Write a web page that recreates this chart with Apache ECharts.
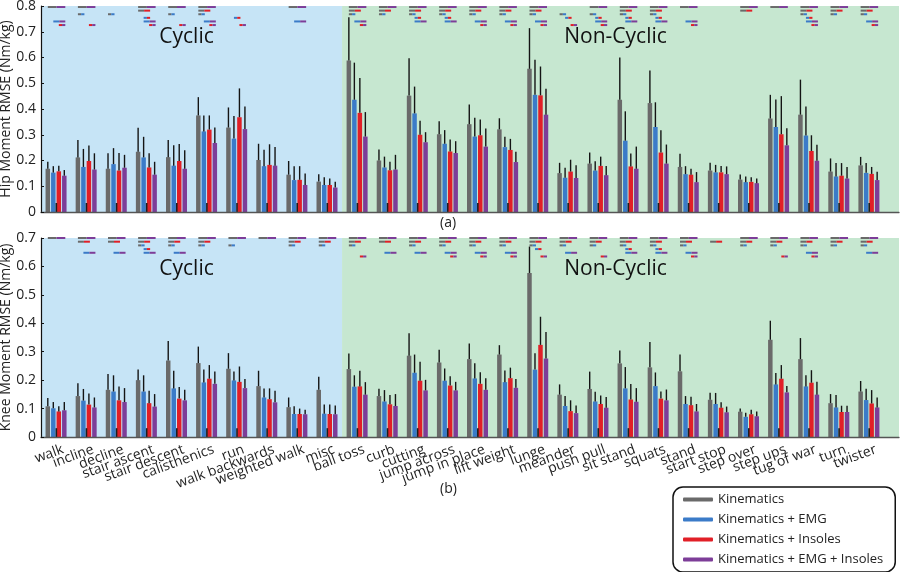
<!DOCTYPE html>
<html><head><meta charset="utf-8">
<script src="https://cdn.jsdelivr.net/npm/echarts@6/dist/echarts.min.js"></script>
<style>html,body{margin:0;padding:0;background:#fff}#c{width:900px;height:572px}</style>
</head><body><div id="c"></div><script>
const categories = ['walk','incline','decline','stair ascent','stair descent','calisthenics','run','walk backwards','weighted walk','misc','ball toss','curb','cutting','jump across','jump in place','lift weight','lunge','meander','push pull','sit stand','squats','stand','start stop','step over','step ups','tug of war','turn','twister'];
const methods = ['Kinematics','Kinematics + EMG','Kinematics + Insoles','Kinematics + EMG + Insoles'];
const regionNames = ['Cyclic','Non-Cyclic'];
const regionBounds = [[-0.5, 9.5], [9.5, 28]];
const hipAxisTicks = [0, 0.8, 0.1];
const kneeAxisTicks = [0, 0.7, 0.1];

const hipKin        = [0.168,0.212,0.168,0.234,0.213,0.375,0.328,0.202,0.145,0.118,0.588,0.200,0.452,0.302,0.341,0.321,0.556,0.151,0.188,0.436,0.423,0.175,0.161,0.126,0.363,0.378,0.157,0.181];
const hipKinHigh    = [0.195,0.280,0.228,0.327,0.280,0.446,0.406,0.265,0.198,0.147,0.756,0.243,0.597,0.352,0.417,0.364,0.714,0.191,0.231,0.600,0.550,0.226,0.191,0.146,0.455,0.514,0.208,0.214];
const hipEmg        = [0.153,0.175,0.186,0.212,0.180,0.313,0.285,0.178,0.124,0.105,0.436,0.173,0.383,0.265,0.293,0.252,0.455,0.133,0.161,0.277,0.330,0.147,0.154,0.116,0.330,0.297,0.138,0.152];
const hipEmgHigh    = [0.178,0.245,0.248,0.292,0.259,0.375,0.373,0.242,0.178,0.135,0.580,0.215,0.487,0.318,0.366,0.292,0.591,0.172,0.197,0.391,0.426,0.178,0.183,0.138,0.437,0.410,0.190,0.190];
const hipIns        = [0.158,0.198,0.161,0.173,0.198,0.320,0.368,0.183,0.125,0.105,0.385,0.162,0.300,0.235,0.298,0.241,0.453,0.157,0.179,0.177,0.231,0.145,0.154,0.117,0.302,0.237,0.141,0.148];
const hipInsHigh    = [0.180,0.258,0.229,0.228,0.264,0.375,0.480,0.263,0.178,0.130,0.520,0.195,0.354,0.282,0.359,0.284,0.565,0.203,0.215,0.227,0.317,0.168,0.179,0.135,0.450,0.298,0.190,0.175];
const hipEmgIns     = [0.141,0.165,0.172,0.145,0.168,0.268,0.322,0.180,0.105,0.095,0.293,0.165,0.271,0.229,0.254,0.194,0.378,0.132,0.143,0.168,0.188,0.116,0.147,0.112,0.259,0.199,0.130,0.124];
const hipEmgInsHigh = [0.163,0.228,0.222,0.195,0.240,0.328,0.410,0.252,0.150,0.117,0.388,0.222,0.310,0.275,0.324,0.234,0.479,0.182,0.179,0.254,0.262,0.155,0.177,0.130,0.325,0.261,0.175,0.156];

const kneeKin        = [0.108,0.144,0.166,0.200,0.269,0.260,0.240,0.179,0.105,0.166,0.239,0.144,0.286,0.262,0.274,0.290,0.577,0.149,0.169,0.259,0.245,0.231,0.131,0.089,0.342,0.274,0.119,0.160];
const kneeKinHigh    = [0.137,0.189,0.222,0.237,0.338,0.318,0.295,0.233,0.139,0.212,0.294,0.170,0.365,0.307,0.329,0.323,0.670,0.185,0.230,0.304,0.334,0.290,0.156,0.100,0.409,0.348,0.151,0.197];
const kneeEmg        = [0.101,0.128,0.160,0.160,0.171,0.192,0.199,0.139,0.081,0.082,0.177,0.125,0.226,0.198,0.206,0.193,0.237,0.109,0.125,0.171,0.179,0.116,0.116,0.071,0.185,0.178,0.104,0.130];
const kneeEmgHigh    = [0.123,0.169,0.217,0.217,0.233,0.237,0.230,0.171,0.108,0.114,0.217,0.165,0.290,0.241,0.259,0.234,0.295,0.144,0.159,0.246,0.227,0.144,0.155,0.085,0.225,0.217,0.148,0.170];
const kneeIns        = [0.090,0.114,0.129,0.119,0.135,0.205,0.194,0.133,0.081,0.081,0.178,0.115,0.198,0.181,0.187,0.207,0.324,0.091,0.116,0.132,0.135,0.112,0.103,0.080,0.205,0.191,0.088,0.118];
const kneeInsHigh    = [0.108,0.153,0.178,0.163,0.176,0.253,0.248,0.171,0.100,0.114,0.233,0.148,0.265,0.214,0.228,0.244,0.423,0.129,0.146,0.186,0.160,0.142,0.122,0.096,0.253,0.235,0.110,0.165];
const kneeEmgIns     = [0.094,0.104,0.123,0.107,0.129,0.187,0.172,0.122,0.080,0.080,0.149,0.109,0.164,0.164,0.166,0.173,0.276,0.084,0.103,0.124,0.129,0.090,0.087,0.073,0.157,0.149,0.088,0.104];
const kneeEmgInsHigh = [0.123,0.139,0.172,0.151,0.166,0.230,0.204,0.163,0.096,0.111,0.193,0.151,0.201,0.194,0.207,0.204,0.369,0.111,0.141,0.172,0.167,0.116,0.107,0.090,0.179,0.194,0.110,0.139];

// Significant pairwise differences (comparison ids 1..6 index into sigPairs)
const sigPairs = [[0,3],[0,2],[0,1],[1,2],[1,3],[2,3]];
const hipSig  = [[1,5,6],[1,3,6],[3],[1,2,4,5,6],[1,3,6],[1,2,3,5,6],[4,6],[],[1,5],[],[1,2,3,5,6],[1,2,3],[1,2,3,4,5],[1,2,3,4,5],[1,2,3,5,6],[1,2,3,5,6],[1,2,3,5,6],[3,4,6],[1,3,4,5,6],[1,2,3,4,5],[1,2,3,4,5],[1,5,6],[],[1,2],[1],[1,2,3,4,5,6],[1,2,3],[1,2,3,5,6]];
const kneeSig = [[1],[1,2,5],[1,2,5],[1,2,3,4,5],[1,2,3,5],[1,2,3],[1,3],[1],[1,2,3],[1,2,3],[1,2,3,6],[1,2,5],[1,2,3,5],[1,2,3,5,6],[1,2,3,5,6],[1,2,3,5,6],[1,2,3,4,6],[1,2,3,5],[1,2,3,6],[1,2,3,4,5],[1,2,3,4,5],[1,2,3,5,6],[2],[1,2,3],[1,2,3,6],[1,2,3,5,6],[1,2,3],[1,2,3,5]];

// ---------- styling / layout ----------
const FONT = 'Open Sans';
const colors = ['#6a6a6a','#3b7bc8','#e11f27','#7d3d98'];
const regionColors = ['#c6e4f6','#c6e7d0'];
const BAR_W = 4.5, BAR_GAP_PX = 1;
const offsets = [0,1,2,3].map(k => (k - 1.5) * (BAR_W + BAR_GAP_PX));
const GRID_LEFT = 41, GRID_W = 858;
const LABEL_SHIFT_PX = 7;
const labelShift = (regionBounds[1][1] - regionBounds[0][0]) / GRID_W * LABEL_SHIFT_PX;
const labelMin = regionBounds[0][0] - labelShift, labelMax = regionBounds[1][1] - labelShift;

const panels = [
  {mean:[hipKin,hipEmg,hipIns,hipEmgIns], high:[hipKinHigh,hipEmgHigh,hipInsHigh,hipEmgInsHigh], sig:hipSig,
   sigTop:0.796, sigStep:0.014, stub:0.035, name:'Hip Moment RMSE (Nm/kg)', ticks:hipAxisTicks},
  {mean:[kneeKin,kneeEmg,kneeIns,kneeEmgIns], high:[kneeKinHigh,kneeEmgHigh,kneeInsHigh,kneeEmgInsHigh], sig:kneeSig,
   sigTop:0.700, sigStep:0.013, stub:0.031, name:'Knee Moment RMSE (Nm/kg)', ticks:kneeAxisTicks}
];

const series = [];
panels.forEach((p, g) => {
  p.mean.forEach((arr, k) => {
    const s = {
      type:'bar', name:methods[k], xAxisIndex:g, yAxisIndex:g, z:3,
      barWidth:BAR_W, barGap:(BAR_GAP_PX/BAR_W*100)+'%',
      itemStyle:{color:colors[k]}, silent:true,
      data:arr.map((v,i)=>[i,v])
    };
    if (k === 0) {
      s.markArea = {
        silent:true,
        label:{position:'insideTop', distance:21, offset:[-5,0], fontSize:21, fontFamily:FONT, color:'#111'},
        data: regionBounds.map((b,r)=>[{xAxis:b[0], name:regionNames[r], itemStyle:{color:regionColors[r]}},{xAxis:b[1]}])
      };
    }
    series.push(s);
    series.push({
      type:'custom', xAxisIndex:g, yAxisIndex:g, z:4, silent:true,
      data:arr.map((v,i)=>[i,v,p.high[k][i]]),
      encode:{x:0,y:[1,2]},
      renderItem:(params, api)=>{
        const i = api.value(0);
        const a = api.coord([i, api.value(1)]);
        const b = api.coord([i, api.value(2)]);
        const x = a[0] + offsets[k];
        return {type:'line', shape:{x1:x,y1:a[1],x2:x,y2:b[1]}, style:{stroke:'#141414', lineWidth:1.4}};
      }
    });
  });
  series.push({
    type:'custom', xAxisIndex:g, yAxisIndex:g, z:4, silent:true,
    data:categories.map((c,i)=>[i,0,p.stub]), encode:{x:0,y:[1,2]},
    renderItem:(params, api)=>{
      const a = api.coord([api.value(0), api.value(1)]);
      const b = api.coord([api.value(0), api.value(2)]);
      return {type:'line', shape:{x1:a[0]+0.3,y1:a[1],x2:a[0]+0.3,y2:b[1]}, style:{stroke:'#1e1e1e', lineWidth:1.6}};
    }
  });
  const sigData = [];
  p.sig.forEach((list,i)=>list.forEach(r=>sigData.push([i, p.sigTop - (r-1)*p.sigStep, r-1])));
  series.push({
    type:'custom', xAxisIndex:g, yAxisIndex:g, z:5, silent:true,
    data:sigData, encode:{x:0,y:1},
    renderItem:(params, api)=>{
      const c = api.coord([api.value(0), api.value(1)]);
      const pair = sigPairs[api.value(2)];
      const x1 = c[0] + offsets[pair[0]], x2 = c[0] + offsets[pair[1]] + 1;
      const xm = (x1 + x2) / 2;
      return {type:'group', children:[
        {type:'rect', shape:{x:x1, y:c[1]-1, width:xm-x1, height:2}, style:{fill:colors[pair[0]]}},
        {type:'rect', shape:{x:xm, y:c[1]-1, width:x2-xm, height:2}, style:{fill:colors[pair[1]]}}
      ]};
    }
  });
});

const grids = [
  {left:GRID_LEFT, top:6, width:GRID_W, height:206, containLabel:false, outerBoundsMode:'none'},
  {left:GRID_LEFT, top:238, width:GRID_W, height:199, containLabel:false, outerBoundsMode:'none'}
];

const xAxes = grids.map((gr,g)=>({
  type:'value', gridIndex:g, min:regionBounds[0][0], max:regionBounds[1][1], z:10, scale:true,
  axisLine:{show:true, onZero:false, lineStyle:{color:'#555', width:1.3}},
  axisTick:{show:false}, splitLine:{show:false}, axisLabel:{show:false}
}));
// category labels under the knee panel (empty placeholders at both ends absorb min/max label hiding)
const labelValues = [labelMin + 0.01].concat(categories.map((c,i)=>i), [labelMax - 0.01]);
xAxes.push({
  type:'value', gridIndex:1, position:'bottom', offset:4, scale:true,
  min:labelMin, max:labelMax,
  axisLine:{show:false}, axisTick:{show:false}, splitLine:{show:false},
  axisLabel:{
    show:true, customValues:labelValues,
    formatter:v=>{ const i = Math.round(v); return Math.abs(v - i) < 1e-6 && categories[i] ? categories[i] : ''; },
    showMinLabel:false, showMaxLabel:false, hideOverlap:false,
    rotate:20, fontSize:14, fontFamily:FONT, color:'#222', margin:8
  }
});

const yAxes = panels.map((p,g)=>({
  type:'value', gridIndex:g, min:p.ticks[0], max:p.ticks[1], interval:p.ticks[2], z:10,
  name:p.name, nameLocation:'middle', nameGap:28, nameMoveOverlap:false,
  nameTextStyle:{fontSize:14, fontFamily:FONT, color:'#222'},
  axisLine:{show:true, onZero:false, lineStyle:{color:'#111', width:1.2}},
  axisTick:{show:true, inside:true, length:3, lineStyle:{color:'#111'}},
  splitLine:{show:false},
  axisLabel:{fontSize:14, fontFamily:FONT, color:'#222', margin:5, formatter:v=>v===0?'0':v.toFixed(1)}
}));

const chart = echarts.init(document.getElementById('c'), null, {renderer:'canvas'});
chart.setOption({
  animation:false,
  backgroundColor:'#fff',
  grid:grids,
  xAxis:xAxes,
  yAxis:yAxes,
  legend:{
    data:methods, selectedMode:false, orient:'vertical', left:673, top:487,
    icon:'roundRect', itemWidth:30, itemHeight:4, itemGap:5,
    padding:[5,12,5,10], borderColor:'#111', borderWidth:1.5, borderRadius:10,
    textStyle:{fontSize:13, fontFamily:FONT, color:'#222', lineHeight:15}
  },
  graphic:[
    {type:'text', left:440, top:216, style:{text:'(a)', fontSize:14, fontFamily:FONT, fill:'#222'}},
    {type:'text', left:440, top:482, style:{text:'(b)', fontSize:14, fontFamily:FONT, fill:'#222'}}
  ],
  series:series
});
</script></body></html>
